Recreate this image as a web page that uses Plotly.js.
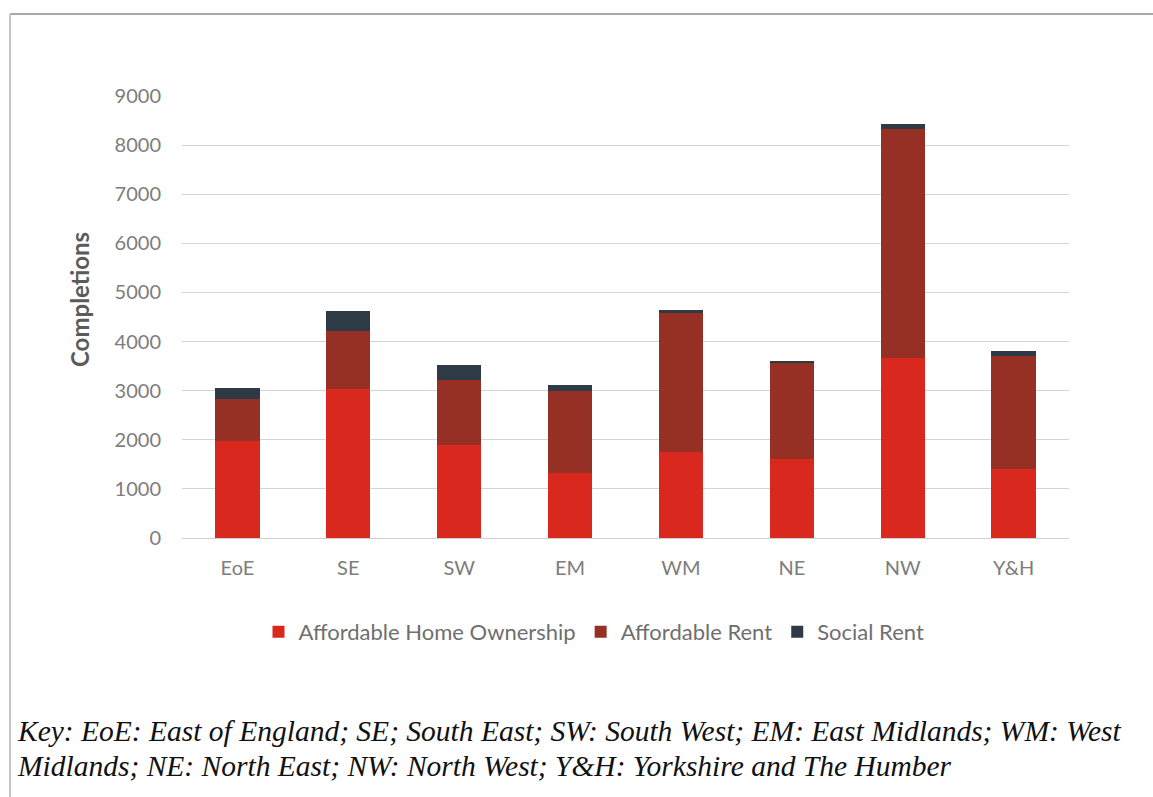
<!DOCTYPE html>
<html>
<head>
<meta charset="utf-8">
<script src="https://cdn.plot.ly/plotly-3.0.1.min.js"></script>
<style>
html,body{margin:0;padding:0;background:#fff;}
#chart{width:1153px;height:797px;}
</style>
</head>
<body>
<div id="chart"></div>
<script>
const regions = ["EoE", "SE", "SW", "EM", "WM", "NE", "NW", "Y&H"];
const affordableHomeOwnership = [1970, 3030, 1900, 1320, 1760, 1610, 3670, 1400];
const affordableRent = [855, 1190, 1320, 1675, 2820, 1970, 4650, 2310];
const socialRent = [230, 410, 300, 120, 70, 20, 120, 90];
const seriesNames = ["Affordable Home Ownership", "Affordable Rent", "Social Rent"];
const seriesColors = ["#d9281d", "#973024", "#2e3a46"];
const yTicks = [0, 1000, 2000, 3000, 4000, 5000, 6000, 7000, 8000, 9000];
const yAxisTitle = "Completions";
const keyLine1 = "Key: EoE: East of England; SE; South East; SW: South West; EM: East Midlands; WM: West";
const keyLine2 = "Midlands; NE: North East; NW: North West; Y&H: Yorkshire and The Humber";

const seriesValues = [affordableHomeOwnership, affordableRent, socialRent];
const traces = seriesValues.map((vals, i) => ({
  type: "bar",
  name: seriesNames[i],
  x: regions,
  y: vals,
  marker: {color: seriesColors[i]},
  hoverinfo: "x+y+name"
}));

const W = 1153, H = 797;
const mL = 182, mR = 84, mT = 96, mB = 259;
const pw = W - mL - mR, ph = H - mT - mB;
const px = x => (x - mL) / pw;
const py = y => (H - mB - y) / ph;

const sans = "Lato, 'Open Sans', sans-serif";
const tickFont = {family: sans, size: 20, color: "#7d7d7d"};

const layout = {
  width: W, height: H,
  margin: {l: mL, r: mR, t: mT, b: mB, pad: 0},
  paper_bgcolor: "#ffffff",
  plot_bgcolor: "#ffffff",
  barmode: "stack",
  bargap: 0.6,
  showlegend: true,
  legend: {
    orientation: "h",
    traceorder: "normal",
    x: px(594), xanchor: "center",
    y: py(632), yanchor: "middle",
    font: {family: sans, size: 22, color: "#6f6f6f"},
    itemwidth: 30,
    tracegroupgap: 0
  },
  xaxis: {
    type: "category",
    tickfont: tickFont,
    showgrid: false,
    showline: true,
    linecolor: "#d0d0d0",
    linewidth: 1,
    ticks: "",
    ticklabelstandoff: 12,
    zeroline: false
  },
  yaxis: {
    range: [0, 9000],
    tickvals: yTicks,
    ticktext: yTicks.map(String),
    tickfont: tickFont,
    showgrid: true,
    gridcolor: "#d4d4d4",
    gridwidth: 1,
    zeroline: false,
    showline: false,
    ticks: "",
    ticklabelstandoff: 20
  },
  annotations: [
    {xref: "paper", yref: "paper", x: px(79), y: py(300), xanchor: "center", yanchor: "middle",
     text: "<b>" + yAxisTitle + "</b>", textangle: -90, showarrow: false,
     font: {family: sans, size: 24, color: "#5b5b5b"}},
    {xref: "paper", yref: "paper", x: px(15), y: py(731), xanchor: "left", yanchor: "middle",
     text: "<i>" + keyLine1 + "</i>", showarrow: false,
     font: {family: "'Liberation Serif', serif", size: 29.5, color: "#111111"}},
    {xref: "paper", yref: "paper", x: px(15), y: py(766), xanchor: "left", yanchor: "middle",
     text: "<i>" + keyLine2 + "</i>", showarrow: false,
     font: {family: "'Liberation Serif', serif", size: 29.5, color: "#111111"}}
  ],
  shapes: [
    {type: "line", xref: "paper", yref: "paper", x0: px(10), x1: px(1153), y0: py(14), y1: py(14),
     line: {color: "#a8a8a8", width: 2}},
    {type: "line", xref: "paper", yref: "paper", x0: px(10), x1: px(10), y0: py(14), y1: py(797),
     line: {color: "#c4c4c4", width: 2}}
  ]
};

Plotly.newPlot("chart", traces, layout, {displayModeBar: false, responsive: false});
</script>
</body>
</html>
